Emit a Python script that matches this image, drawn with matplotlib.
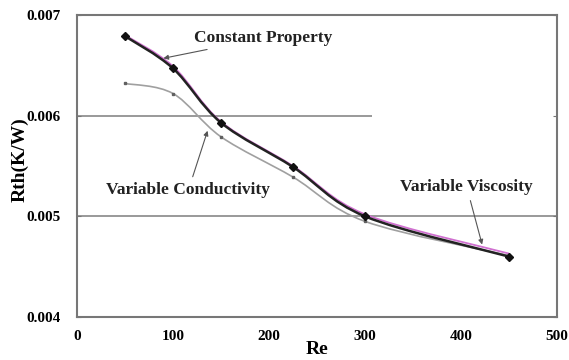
import numpy as np
import matplotlib.pyplot as plt
from matplotlib.path import Path
from matplotlib.patches import PathPatch

re_vals = [50, 100, 150, 225, 300, 450]
rth_const = [0.00679, 0.00647, 0.00593, 0.00549, 0.00500, 0.00460]
rth_visc = [0.00680, 0.00649, 0.00594, 0.00550, 0.00502, 0.00463]
rth_cond = [0.00632, 0.00622, 0.00579, 0.00539, 0.00495, 0.00461]

x_ticks = [0, 100, 200, 300, 400, 500]
y_ticks = [0.004, 0.005, 0.006, 0.007]


def smooth_path(x, y, t=1/6):
    # Excel-style smoothed line: cubic bezier through the points
    x = np.asarray(x, float)
    y = np.asarray(y, float)
    n = len(x)
    verts = [(x[0], y[0])]
    codes = [Path.MOVETO]
    for i in range(n - 1):
        x0, y0 = (x[i - 1], y[i - 1]) if i > 0 else (x[i], y[i])
        x3, y3 = (x[i + 2], y[i + 2]) if i + 2 < n else (x[i + 1], y[i + 1])
        c1 = (x[i] + (x[i + 1] - x0) * t, y[i] + (y[i + 1] - y0) * t)
        c2 = (x[i + 1] - (x3 - x[i]) * t, y[i + 1] - (y3 - y[i]) * t)
        verts += [c1, c2, (x[i + 1], y[i + 1])]
        codes += [Path.CURVE4] * 3
    return Path(verts, codes)


plt.rcParams['font.family'] = ['Liberation Serif', 'DejaVu Serif']
plt.rcParams['font.weight'] = 'bold'

fig = plt.figure(figsize=(5.69, 3.6), dpi=100)
ax = fig.add_axes([77 / 569, 43 / 360, 480 / 569, 302 / 360])

# gridlines (the upper one stops short in the original)
ax.hlines(0.006, 0, 307, color='#888888', lw=1.2, zorder=1)
ax.hlines(0.005, 0, 500, color='#888888', lw=1.2, zorder=1)

ax.add_patch(PathPatch(smooth_path(re_vals, rth_cond), fill=False,
                       ec='#a0a0a0', lw=1.2, zorder=2))
ax.plot(re_vals, rth_cond, ls='none', marker='s', ms=2, color='#606060', zorder=3)

ax.add_patch(PathPatch(smooth_path(re_vals, rth_visc), fill=False,
                       ec='#d070d0', lw=1.3, zorder=3))

ax.add_patch(PathPatch(smooth_path(re_vals, rth_const), fill=False,
                       ec='#222222', lw=1.8, zorder=4))
ax.plot(re_vals, rth_const, ls='none', marker='D', ms=4, color='#111111', zorder=5)

tkw = dict(fontsize=12.5, fontweight='bold', color='#222222')
akw = dict(arrowstyle='-|>', color='#555555', lw=0.8, mutation_scale=7,
           shrinkA=2, shrinkB=0)
ax.annotate('Constant Property', xy=(90, 0.00657), xytext=(122, 0.00677),
            va='center', ha='left', arrowprops=akw, **tkw)
ax.annotate('Variable Conductivity', xy=(136, 0.00585), xytext=(116, 0.00526),
            va='center', ha='center', arrowprops=akw, **tkw)
ax.annotate('Variable Viscosity', xy=(422, 0.00472), xytext=(406, 0.00529),
            va='center', ha='center', arrowprops=akw, **tkw)

ax.set_xlim(0, 500)
ax.set_ylim(0.004, 0.007)
ax.set_xticks(x_ticks)
ax.set_yticks(y_ticks)
ax.set_yticklabels(['%.3f' % v for v in y_ticks])
ax.tick_params(axis='x', length=0, labelsize=11, pad=9)
ax.tick_params(axis='y', direction='in', length=3, color='#777777',
               right=True, labelsize=11, pad=12)
for lab in ax.get_xticklabels() + ax.get_yticklabels():
    lab.set_fontweight('bold')
for s in ax.spines.values():
    s.set_color('#777777')
    s.set_linewidth(1.5)

ax.set_xlabel('Re', fontsize=14, fontweight='bold', labelpad=-1)
ax.set_ylabel('Rth(K/W)', fontsize=14, fontweight='bold')
ax.yaxis.set_label_coords(-0.1, 0.52)

fig.savefig('out.png', dpi=100)
